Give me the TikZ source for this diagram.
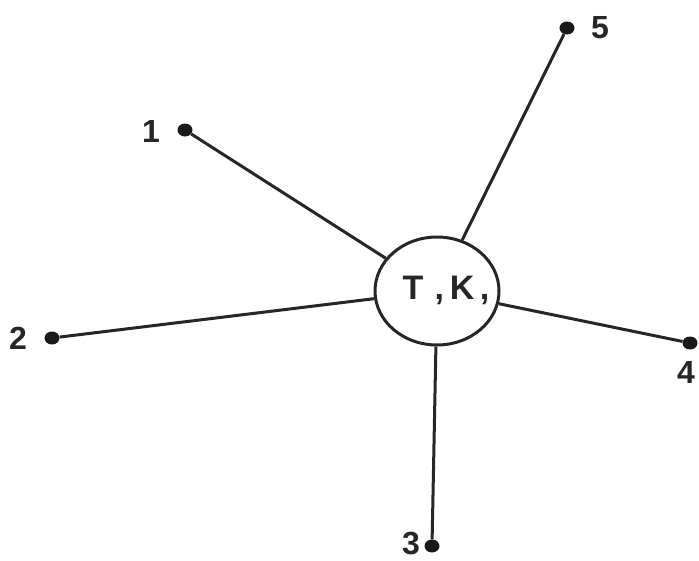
\documentclass[tikz,border=0pt]{standalone}
\usepackage{fontspec}
\setmainfont{Liberation Sans}
\usetikzlibrary{shapes.geometric}
\begin{document}
\begin{tikzpicture}[x=1pt,y=-1pt,
  dot/.style={ellipse,fill=black!90,inner sep=0pt,minimum width=15pt,minimum height=13pt},
  lbl/.style={font=\fontsize{32}{36}\selectfont\bfseries,text=black!85},
  edge/.style={line width=3pt,black!85}]
\useasboundingbox (0,0) rectangle (699,560);
\node[ellipse,draw=black!85,line width=3pt,minimum width=124pt,minimum height=108pt,inner sep=0pt] (c) at (437,291) {};
\node[font=\fontsize{34}{38}\selectfont\bfseries,text=black!85] (t) at (446,290) {T\,\,,\,K\,,};
\node[dot] (d1) at (185,130) {};
\node[dot] (d5) at (567,28) {};
\node[dot] (d2) at (52,338) {};
\node[dot] (d4) at (690,343) {};
\node[dot] (d3) at (432,546) {};
\node[lbl] (l1) at (151,131) {1};
\node[lbl] (l5) at (600,28) {5};
\node[lbl] (l2) at (18,338) {2};
\node[lbl] (l4) at (686,372) {4};
\node[lbl] (l3) at (411,543) {3};
\draw[edge] (d1) -- (c);
\draw[edge] (d5) -- (c);
\draw[edge] (d2) -- (c);
\draw[edge] (d4) -- (c);
\draw[edge] (d3) -- (c);
\end{tikzpicture}
\end{document}
